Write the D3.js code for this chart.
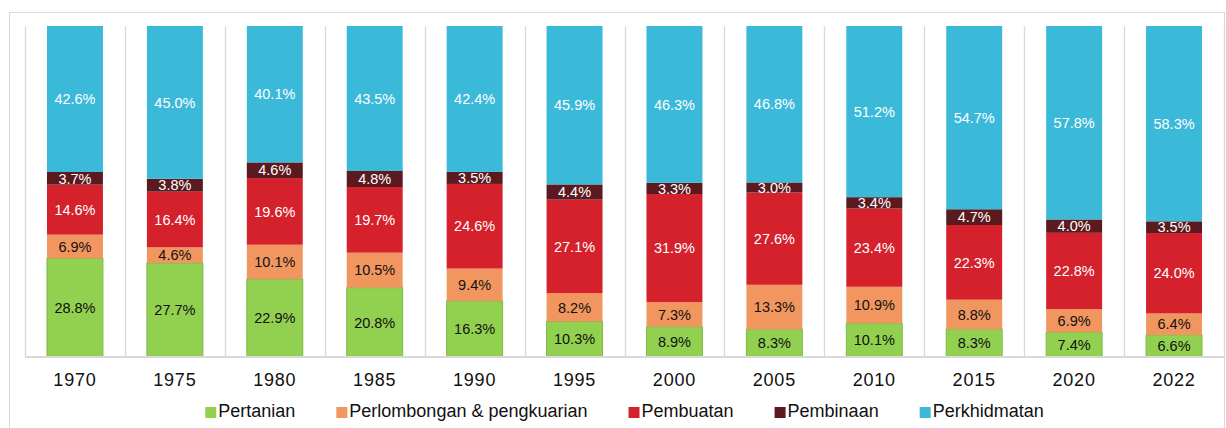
<!DOCTYPE html>
<html>
<head>
<meta charset="utf-8">
<script src="https://cdn.jsdelivr.net/npm/d3@7"></script>
<style>
  html, body { margin: 0; padding: 0; background: #fff; }
  svg { display: block; font-family: "Liberation Sans", Arial, sans-serif; }
</style>
</head>
<body>
<svg id="chart" width="1226" height="428"></svg>
<script>
const years = ["1970","1975","1980","1985","1990","1995","2000","2005","2010","2015","2020","2022"];
const seriesNames = ["Pertanian","Perlombongan & pengkuarian","Pembuatan","Pembinaan","Perkhidmatan"];
const pertanian    = [28.8, 27.7, 22.9, 20.8, 16.3, 10.3, 8.9, 8.3, 10.1, 8.3, 7.4, 6.6];
const perlombongan = [6.9, 4.6, 10.1, 10.5, 9.4, 8.2, 7.3, 13.3, 10.9, 8.8, 6.9, 6.4];
const pembuatan    = [14.6, 16.4, 19.6, 19.7, 24.6, 27.1, 31.9, 27.6, 23.4, 22.3, 22.8, 24.0];
const pembinaan    = [3.7, 3.8, 4.6, 4.8, 3.5, 4.4, 3.3, 3.0, 3.4, 4.7, 4.0, 3.5];
const perkhidmatan = [42.6, 45.0, 40.1, 43.5, 42.4, 45.9, 46.3, 46.8, 51.2, 54.7, 57.8, 58.3];
const colors = ["#92D050", "#F1965F", "#D4212C", "#5A1A1F", "#3BB9D9"];
const labelColors = ["#111", "#111", "#fff", "#fff", "#fff"];

const seriesValues = [pertanian, perlombongan, pembuatan, pembinaan, perkhidmatan];
const rows = years.map((y, i) => {
  const r = { year: y };
  seriesNames.forEach((s, k) => r[s] = seriesValues[k][i]);
  return r;
});

const svg = d3.select("#chart");
const plot = { left: 25, right: 1224, top: 26, bottom: 357 };

// outer border
svg.append("rect")
  .attr("x", 9.5).attr("y", 12.5)
  .attr("width", 1215).attr("height", 430)
  .attr("fill", "none").attr("stroke", "#d9d9d9").attr("stroke-width", 1);

const x = d3.scaleBand().domain(years).range([plot.left, plot.right])
  .paddingInner(0.44).paddingOuter(0.22);
const y = d3.scaleLinear().domain([0, 1]).range([plot.bottom, plot.top]);

// vertical gridlines at category boundaries
const step = x.step();
const bounds = d3.range(years.length + 1).map(i => plot.left + i * step);
svg.append("g").selectAll("line").data(bounds).join("line")
  .attr("x1", d => Math.round(d) + 0.5).attr("x2", d => Math.round(d) + 0.5)
  .attr("y1", plot.top).attr("y2", plot.bottom)
  .attr("stroke", "#d9d9d9").attr("stroke-width", 1.3);

const stack = d3.stack().keys(seriesNames).offset(d3.stackOffsetExpand);
const stacked = stack(rows);

const g = svg.append("g");
stacked.forEach((layer, k) => {
  const lg = g.append("g");
  lg.selectAll("rect").data(layer).join("rect")
    .attr("x", d => x(d.data.year))
    .attr("width", x.bandwidth())
    .attr("y", d => y(d[1]))
    .attr("height", d => y(d[0]) - y(d[1]))
    .attr("fill", colors[k])
    .attr("stroke", k === 0 ? "#7DBB45" : "none")
    .attr("stroke-width", k === 0 ? 1 : 0);
});
stacked.forEach((layer, k) => {
  g.append("g").selectAll("text").data(layer).join("text")
    .attr("x", d => x(d.data.year) + x.bandwidth() / 2)
    .attr("y", d => (y(d[0]) + y(d[1])) / 2)
    .attr("dy", "0.36em")
    .attr("text-anchor", "middle")
    .attr("font-size", 14.5)
    .attr("fill", labelColors[k])
    .text(d => d.data[seriesNames[k]].toFixed(1) + "%");
});

// x axis
const xAxis = d3.axisBottom(x).tickSize(0).tickPadding(0);
const ax = svg.append("g").attr("transform", `translate(0,${plot.bottom})`).call(xAxis);
ax.select(".domain").attr("stroke", "#d9d9d9").attr("stroke-width", 2)
  .attr("d", `M${plot.left},0H${plot.right}`);
ax.selectAll("text").attr("font-size", 18).attr("fill", "#111")
  .attr("font-family", "'Liberation Sans', Arial, sans-serif")
  .attr("letter-spacing", "0.8px")
  .attr("y", 29).attr("dy", 0);

// legend
const legend = svg.append("g");
const items = legend.selectAll("g").data(seriesNames).join("g");
items.append("rect").attr("width", 11).attr("height", 11).attr("y", -10)
  .attr("fill", (d, i) => colors[i]);
items.append("text").attr("x", 13).attr("font-size", 18).attr("fill", "#111").text(d => d);
let cx = 0;
const gap = 41;
items.each(function() {
  const w = 13 + d3.select(this).select("text").node().getComputedTextLength();
  d3.select(this).attr("transform", `translate(${cx},0)`);
  cx += w + gap;
});
const totalW = cx - gap;
legend.attr("transform", `translate(${(plot.left + plot.right) / 2 - totalW / 2},417)`);
</script>
</body>
</html>
